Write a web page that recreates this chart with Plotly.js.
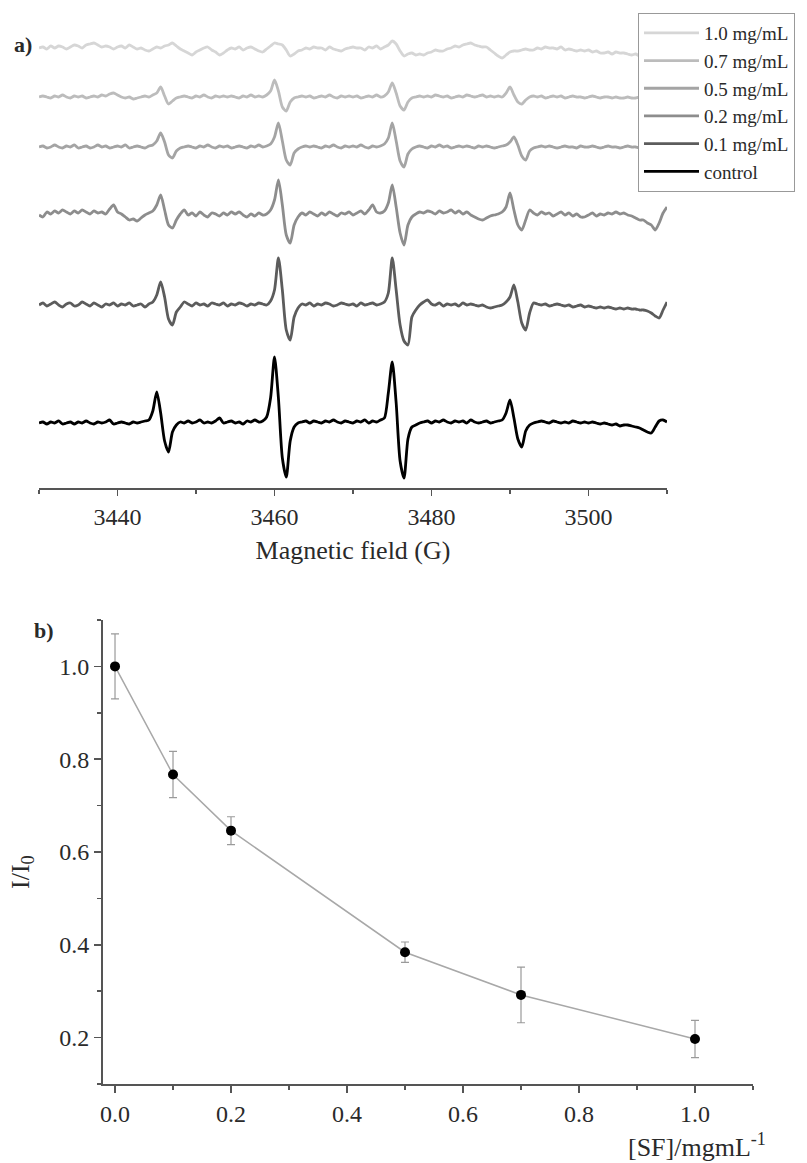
<!DOCTYPE html>
<html><head><meta charset="utf-8">
<script src="https://cdn.plot.ly/plotly-3.0.1.min.js"></script>
<style>html,body{margin:0;padding:0;background:#fff}</style>
</head><body><div id="chart" style="width:807px;height:1163px"></div>
<script>
// ---------- Panel a: EPR spectra (Magnetic field in G) ----------
const field = [
3430,3430.5,3431,3431.5,3432,3432.5,3433,3433.5,3434,3434.5,
3435,3435.5,3436,3436.5,3437,3437.5,3438,3438.5,3439,3439.5,
3440,3440.5,3441,3441.5,3442,3442.5,3443,3443.5,3444,3444.5,
3445,3445.5,3446,3446.5,3447,3447.5,3448,3448.5,3449,3449.5,
3450,3450.5,3451,3451.5,3452,3452.5,3453,3453.5,3454,3454.5,
3455,3455.5,3456,3456.5,3457,3457.5,3458,3458.5,3459,3459.5,
3460,3460.5,3461,3461.5,3462,3462.5,3463,3463.5,3464,3464.5,
3465,3465.5,3466,3466.5,3467,3467.5,3468,3468.5,3469,3469.5,
3470,3470.5,3471,3471.5,3472,3472.5,3473,3473.5,3474,3474.5,
3475,3475.5,3476,3476.5,3477,3477.5,3478,3478.5,3479,3479.5,
3480,3480.5,3481,3481.5,3482,3482.5,3483,3483.5,3484,3484.5,
3485,3485.5,3486,3486.5,3487,3487.5,3488,3488.5,3489,3489.5,
3490,3490.5,3491,3491.5,3492,3492.5,3493,3493.5,3494,3494.5,
3495,3495.5,3496,3496.5,3497,3497.5,3498,3498.5,3499,3499.5,
3500,3500.5,3501,3501.5,3502,3502.5,3503,3503.5,3504,3504.5,
3505,3505.5,3506,3506.5,3507,3507.5,3508,3508.5,3509,3509.5,
3510];

const seriesNames = ['1.0 mg/mL','0.7 mg/mL','0.5 mg/mL','0.2 mg/mL','0.1 mg/mL','control'];

// signal intensities (arbitrary units)
const sig_1_0 = [
0,1,-1,2,0,2,1,-1,1,3,
2,0,3,4,5,3,1,2,1,-1,
1,2,0,3,1,-1,0,-2,-3,-1,
1,0,2,3,5,2,-1,-3,-5,-7,
-4,-2,0,1,-2,-4,-7,-5,-2,0,
-1,1,-2,0,1,-1,-3,-4,-1,2,
5,4,3,-2,-8,-6,-3,-2,0,-1,
1,0,0,-2,1,-1,-2,-3,-1,0,
1,0,0,-2,1,0,2,-1,1,3,
7,4,-3,-8,-6,-5,-7,-6,-7,-5,
-4,-2,-3,-3,-1,0,2,1,3,4,
5,3,2,1,1,-2,-5,-8,-10,-7,
-4,-3,-3,-2,-1,-2,-2,0,-1,1,
0,0,-1,1,-2,-1,-2,-3,-2,-3,
-2,-4,-3,-5,-5,-4,-6,-4,-5,-5,
-6,-7,-6,-8,-7,-8,-6,-7,-8,-7,
-6];
const sig_0_7 = [
0,1,0,-1,1,0,2,0,-1,1,
0,1,-1,0,1,0,2,1,3,4,
2,0,-1,0,-2,-1,0,1,0,2,
4,10,1,-7,-4,-1,0,1,0,-1,
1,0,2,0,-1,1,0,1,0,1,
0,-1,1,0,2,0,1,0,2,6,
17,6,-10,-14,-5,-1,0,1,0,1,
-1,0,1,0,2,0,-1,1,0,1,
0,1,-1,0,1,0,2,0,1,5,
14,4,-9,-13,-5,-1,0,1,0,1,
0,2,1,0,1,-1,0,1,0,2,
1,0,1,2,0,1,0,1,0,4,
10,2,-5,-7,-3,0,1,0,1,-1,
0,1,0,1,-1,0,1,0,0,-1,
0,1,0,-1,0,0,-1,0,-1,-1,
0,-1,-1,0,-2,-1,-1,0,-1,0,
-1];
const sig_0_5 = [
0,1,-1,0,2,0,-1,1,0,2,
-1,0,1,-1,0,2,0,1,-1,0,
1,0,2,-1,0,1,0,-1,1,2,
6,14,5,-8,-11,-4,-1,0,1,0,
-1,1,0,2,0,-1,1,0,1,-1,
0,1,0,-1,1,0,2,0,1,3,
10,24,6,-13,-18,-6,-2,0,1,0,
1,0,-1,1,0,2,0,-1,1,0,
1,0,2,0,-1,1,0,1,3,9,
24,6,-14,-20,-7,-2,0,1,0,-1,
1,0,2,0,1,-1,0,1,0,1,
0,-1,1,0,1,0,-1,0,1,2,
5,10,2,-9,-13,-4,-1,0,1,0,
1,0,-1,0,1,0,0,-1,1,0,
0,1,0,-1,0,1,0,0,-1,0,
1,0,0,-1,0,1,0,-1,0,1,
0];
const sig_0_2 = [
0,-2,3,1,4,2,5,3,1,4,
2,5,3,1,4,2,3,1,6,10,
3,1,-2,-5,-4,-6,-3,0,2,4,
10,20,5,-10,-13,-5,1,5,0,2,
-1,3,0,-2,2,1,-1,2,0,3,
1,3,0,-2,1,-1,2,0,1,5,
15,35,10,-20,-28,-10,-2,2,0,3,
1,-1,2,0,3,1,-1,2,1,3,
0,2,4,1,5,10,3,2,4,12,
30,8,-18,-30,-10,-2,1,3,2,4,
3,1,4,2,3,5,2,4,1,3,
0,-2,-4,-5,-3,-1,0,1,3,8,
22,5,-10,-15,-5,5,2,0,3,1,
2,-1,1,3,0,2,-1,1,-2,-2,
0,2,-1,1,0,2,1,3,1,2,
0,-1,-3,-5,-5,-8,-10,-15,-8,2,
8];
const sig_0_1 = [
0,2,-1,1,3,0,-2,1,2,-1,
0,3,1,-1,2,0,-2,1,0,2,
-1,1,0,2,-1,0,1,-2,1,3,
10,23,8,-14,-20,-7,-2,3,1,-1,
2,0,1,-1,2,1,0,2,-1,1,
0,2,1,-1,1,0,2,1,0,4,
15,47,15,-25,-35,-12,-3,1,0,2,
-1,1,0,2,1,-1,0,2,1,0,
1,-1,2,0,1,2,0,1,3,12,
47,15,-20,-36,-40,-12,-5,0,3,5,
1,0,2,-1,1,0,1,-1,2,0,
1,0,-1,0,-2,-3,-2,-1,0,3,
8,20,3,-18,-25,-8,2,1,0,1,
-1,0,1,0,-1,0,-2,-1,0,-2,
-1,-2,-3,-2,-3,-2,-3,-4,-3,-4,
-3,-4,-4,-5,-5,-6,-8,-11,-13,-5,
3];
const sig_control = [
0,1,-1,1,0,2,-1,0,1,-1,
1,0,2,0,-1,1,0,1,3,-1,
0,1,0,-1,1,0,1,2,3,12,
31,10,-18,-29,-9,-2,1,0,2,0,
1,3,0,1,0,2,5,0,1,2,
0,1,-1,2,1,3,1,2,6,25,
66,25,-35,-54,-18,-4,0,1,2,0,
2,1,0,2,1,3,1,0,2,1,
0,2,1,3,0,2,1,3,5,30,
61,20,-38,-55,-16,-4,-2,0,1,2,
0,2,1,3,1,0,2,1,2,0,
3,1,0,1,2,0,1,2,3,10,
23,5,-16,-24,-8,-2,0,1,2,1,
0,2,1,0,1,0,2,1,0,1,
0,1,0,-1,0,-1,-2,-1,-3,-2,
-2,-3,-4,-5,-7,-9,-10,-4,2,3,
1];

// ---------- Panel b: I/I0 vs [SF] ----------
const concentration = [0, 0.1, 0.2, 0.5, 0.7, 1.0];
const ratio = [1.0, 0.767, 0.646, 0.384, 0.292, 0.197];
const ratioErr = [0.07, 0.05, 0.03, 0.022, 0.06, 0.04];

// ---------- drawing ----------
const W = 807, H = 1163;
const px = v => v / W, py = v => 1 - v / H;
const FONT = "'Liberation Serif', 'DejaVu Serif', serif";
const AXC = '#555', TXT = '#2a2a2a';

const signals = [sig_1_0, sig_0_7, sig_0_5, sig_0_2, sig_0_1, sig_control];
const colors = ['#d6d6d6', '#bcbcbc', '#a4a4a4', '#8d8d8d', '#5c5c5c', '#000000'];
const stackPx = [48, 97, 147, 215, 305, 423];   // vertical stacking of spectra (px from top)
const panelABottom = 488;

const traces = signals.map((s, k) => ({
  type: 'scatter', mode: 'lines', name: seriesNames[k],
  x: field, y: s.map(v => v + (panelABottom - stackPx[k])),
  xaxis: 'x', yaxis: 'y',
  line: {color: colors[k], width: 2.8, shape: 'spline', smoothing: 0.7}
}));

traces.push({
  type: 'scatter', mode: 'lines+markers', showlegend: false,
  x: concentration, y: ratio, xaxis: 'x2', yaxis: 'y2',
  line: {color: '#a8a8a8', width: 1.5},
  marker: {color: '#000', size: 10},
  error_y: {type: 'data', array: ratioErr, visible: true, color: '#9a9a9a', thickness: 1.2, width: 4}
});

const axisCommon = {
  showline: true, linecolor: AXC, linewidth: 2, mirror: false,
  ticks: 'outside', ticklen: 6, tickwidth: 1.5, tickcolor: AXC,
  showgrid: false, zeroline: false,
  tickfont: {family: FONT, size: 24, color: TXT}
};

const layout = {
  width: W, height: H,
  margin: {l: 0, r: 0, t: 0, b: 0, autoexpand: false},
  paper_bgcolor: '#fff', plot_bgcolor: 'rgba(0,0,0,0)',
  showlegend: true,
  legend: {
    x: px(638), y: py(13), xanchor: 'left', yanchor: 'top',
    bgcolor: '#fff', bordercolor: '#999', borderwidth: 1,
    font: {family: FONT, size: 19, color: TXT},
    itemwidth: 55, tracegroupgap: 0
  },
  xaxis: Object.assign({}, axisCommon, {
    domain: [px(39), px(667)], range: [3430, 3510], anchor: 'y',
    dtick: 20, tick0: 3440,
    minor: {dtick: 10, ticks: 'outside', ticklen: 4, tickwidth: 1.5, tickcolor: AXC},
    title: {text: 'Magnetic field (G)', font: {family: FONT, size: 26, color: TXT}, standoff: 12}
  }),
  yaxis: {domain: [py(panelABottom), 1], range: [0, panelABottom], visible: false, anchor: 'x'},
  xaxis2: Object.assign({}, axisCommon, {
    domain: [px(103), px(753)], range: [-0.0207, 1.1], anchor: 'y2',
    dtick: 0.2, tick0: 0, tickformat: '.1f', ticklen: 7,
    minor: {dtick: 0.1, ticks: 'outside', ticklen: 4, tickwidth: 1.5, tickcolor: AXC}
  }),
  yaxis2: Object.assign({}, axisCommon, {
    domain: [py(1084), py(620)], range: [0.1, 1.1], anchor: 'x2',
    dtick: 0.2, tick0: 0, tickformat: '.1f', ticklen: 7,
    minor: {dtick: 0.1, ticks: 'outside', ticklen: 4, tickwidth: 1.5, tickcolor: AXC}
  }),
  annotations: [
    {text: '<b>a)</b>', x: px(23), y: py(45), xref: 'paper', yref: 'paper', showarrow: false,
     xanchor: 'center', yanchor: 'middle', font: {family: FONT, size: 22, color: TXT}},
    {text: '<b>b)</b>', x: px(44), y: py(630), xref: 'paper', yref: 'paper', showarrow: false,
     xanchor: 'center', yanchor: 'middle', font: {family: FONT, size: 22, color: TXT}},
    {text: 'I/I<sub>0</sub>', x: px(22), y: py(872), xref: 'paper', yref: 'paper', showarrow: false,
     xanchor: 'center', yanchor: 'middle',
     textangle: -90, font: {family: FONT, size: 26, color: TXT}},
    {text: '[SF]/mgmL<sup>-1</sup>', x: px(768), y: py(1145), xref: 'paper', yref: 'paper',
     xanchor: 'right', yanchor: 'middle', showarrow: false,
     font: {family: FONT, size: 26, color: TXT}}
  ]
};

Plotly.newPlot('chart', traces, layout, {displayModeBar: false, staticPlot: true});
</script>
</body></html>
